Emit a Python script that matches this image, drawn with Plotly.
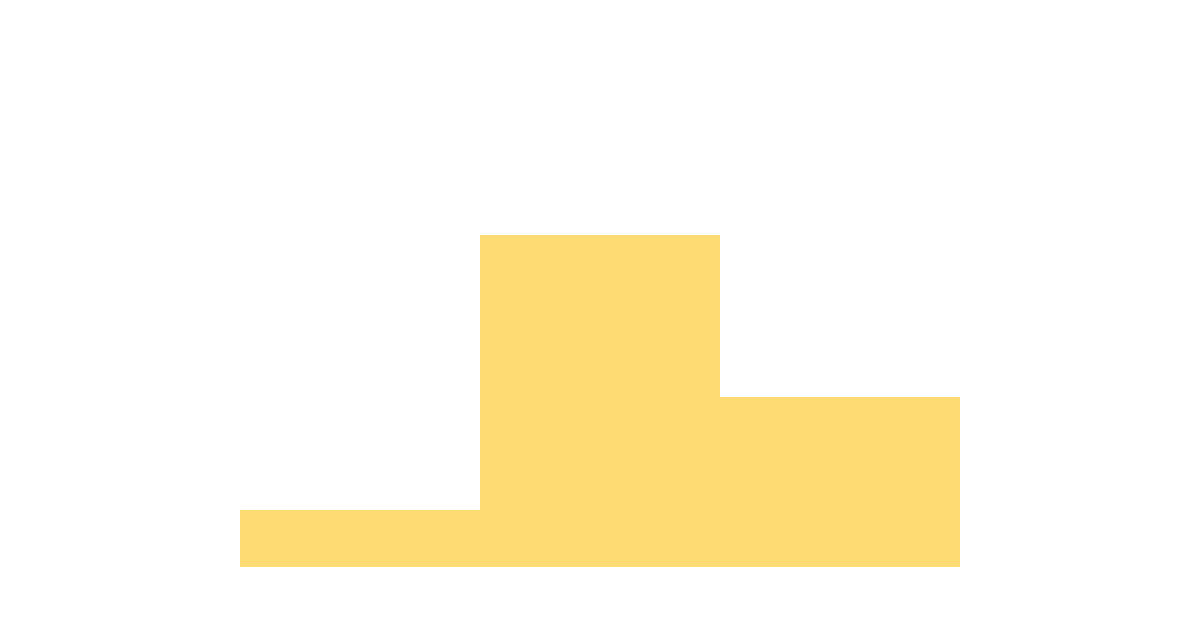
import plotly.graph_objects as go

categories = ["A", "B", "C"]
values = [10, 58.5, 30]

fig = go.Figure(go.Bar(x=categories, y=values, marker=dict(color="#FEDB73", line=dict(width=0)),
                       hoverinfo="skip"))
fig.update_layout(
    width=1200, height=630,
    margin=dict(l=232, r=248, t=0, b=71),
    bargap=0,
    showlegend=False,
    paper_bgcolor="#FFFFFF", plot_bgcolor="#FFFFFF",
    xaxis=dict(visible=False),
    yaxis=dict(visible=False, range=[0, 98.6]),
)
fig.write_html("out.html", config={"displayModeBar": False})
